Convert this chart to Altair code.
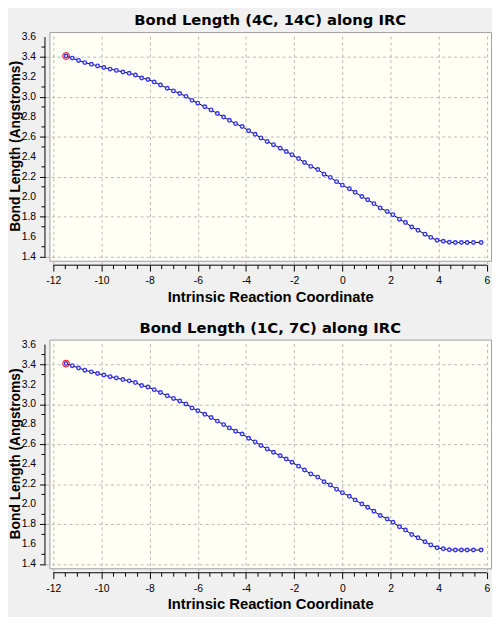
import altair as alt
import pandas as pd

# ---- data ----
IRC = [-11.47, -11.21, -10.95, -10.69, -10.42, -10.16, -9.90, -9.64, -9.38, -9.11,
       -8.85, -8.59, -8.33, -8.07, -7.81, -7.55, -7.27, -7.01, -6.75, -6.49,
       -6.24, -6.00, -5.71, -5.45, -5.19, -4.93, -4.69, -4.43, -4.16, -3.89,
       -3.62, -3.38, -3.12, -2.86, -2.58, -2.33, -2.09, -1.82, -1.57, -1.31,
       -1.02, -0.76, -0.50, -0.24, 0.00, 0.29, 0.53, 0.81, 1.05, 1.31,
       1.57, 1.86, 2.10, 2.37, 2.62, 2.88, 3.14, 3.43, 3.67, 3.93,
       4.19, 4.44, 4.69, 4.94, 5.18, 5.44, 5.76]

BOND_4C_14C = [3.410, 3.389, 3.366, 3.344, 3.327, 3.311, 3.295, 3.279, 3.266, 3.250,
               3.237, 3.220, 3.190, 3.175, 3.149, 3.120, 3.087, 3.061, 3.035, 3.006,
               2.966, 2.938, 2.902, 2.870, 2.834, 2.799, 2.766, 2.733, 2.704, 2.662,
               2.626, 2.590, 2.555, 2.522, 2.487, 2.454, 2.422, 2.383, 2.344, 2.305,
               2.273, 2.227, 2.195, 2.152, 2.117, 2.081, 2.045, 2.003, 1.971, 1.932,
               1.889, 1.854, 1.821, 1.776, 1.743, 1.698, 1.665, 1.626, 1.594, 1.565,
               1.555, 1.545, 1.543, 1.543, 1.543, 1.543, 1.543]

BOND_1C_7C = [3.410, 3.389, 3.366, 3.344, 3.327, 3.311, 3.295, 3.279, 3.266, 3.250,
              3.237, 3.220, 3.190, 3.175, 3.149, 3.120, 3.087, 3.061, 3.035, 3.006,
              2.966, 2.938, 2.902, 2.870, 2.834, 2.799, 2.766, 2.733, 2.704, 2.662,
              2.626, 2.590, 2.555, 2.522, 2.487, 2.454, 2.422, 2.383, 2.344, 2.305,
              2.273, 2.227, 2.195, 2.152, 2.117, 2.081, 2.045, 2.003, 1.971, 1.932,
              1.889, 1.854, 1.821, 1.776, 1.743, 1.698, 1.665, 1.626, 1.594, 1.565,
              1.555, 1.545, 1.543, 1.543, 1.543, 1.543, 1.543]

TITLES = ["Bond Length (4C, 14C) along IRC", "Bond Length (1C, 7C) along IRC"]
X_TITLE = "Intrinsic Reaction Coordinate"
Y_TITLE = "Bond Length (Angstroms)"

X_MAJOR_TICKS = [-12, -10, -8, -6, -4, -2, 0, 2, 4, 6]
X_MINOR_TICKS = [-11.5, -11, -10.5, -9.5, -9, -8.5, -7.5, -7, -6.5, -5.5, -5, -4.5,
                 -3.5, -3, -2.5, -1.5, -1, -0.5, 0.5, 1, 1.5, 2.5, 3, 3.5, 4.5, 5, 5.5]
Y_MAJOR_TICKS = [1.4, 1.6, 1.8, 2.0, 2.2, 2.4, 2.6, 2.8, 3.0, 3.2, 3.4, 3.6]
Y_MINOR_TICKS = [1.5, 1.7, 1.9, 2.1, 2.3, 2.5, 2.7, 2.9, 3.1, 3.3, 3.5]
X_DOMAIN = [-12.16, 6.17]
Y_DOMAIN = [1.36, 3.65]

W, H = 448, 232
LABEL_FONT = "Liberation Sans"


def panel(bond, title):
    df = pd.DataFrame({"irc": IRC, "bond": bond, "step": list(range(len(IRC)))})

    x_axis = alt.Axis(
        values=X_MAJOR_TICKS, title=X_TITLE,
        labelExpr="'' + datum.value",
        tickSize=6.5, labelPadding=5, titlePadding=3,
    )
    y_axis = alt.Axis(values=Y_MAJOR_TICKS, title=None, labels=False, tickSize=6)
    xs = alt.Scale(domain=X_DOMAIN, nice=False, zero=False)
    ys = alt.Scale(domain=Y_DOMAIN, nice=False, zero=False)
    x = alt.X("irc:Q", scale=xs, axis=x_axis)
    y = alt.Y("bond:Q", scale=ys, axis=y_axis)

    base = alt.Chart(df)
    line = base.mark_line(color="black", strokeWidth=1).encode(x=x, y=y)
    pts = base.mark_point(shape="circle", filled=False, size=13, stroke="#3535ff",
                          strokeWidth=1.4, fill="#f6f6ff", fillOpacity=1,
                          opacity=1).encode(x="irc:Q", y="bond:Q")
    ring = base.transform_filter("datum.step == 0").mark_point(
        shape="circle", filled=False, size=48, stroke="#ff0000", strokeWidth=1,
        opacity=1).encode(x="irc:Q", y="bond:Q")

    one = alt.Chart(pd.DataFrame({"label": [title], "ytitle": [Y_TITLE]}))
    xline = one.mark_rule(color="black", strokeWidth=1).encode(
        x=alt.datum(X_MAJOR_TICKS[0]), x2=alt.datum(X_MAJOR_TICKS[-1]), y=alt.value(H + 4.5))
    yline = one.mark_rule(color="black", strokeWidth=1).encode(
        y=alt.datum(Y_MAJOR_TICKS[0]), y2=alt.datum(Y_MAJOR_TICKS[-1]), x=alt.value(-4.5))
    head = one.mark_text(font="DejaVu Sans", fontSize=15, fontWeight="bold",
                         color="black", baseline="alphabetic", align="center").encode(
        text="label:N", x=alt.value(W / 2), y=alt.value(-7))
    ytitle = one.mark_text(font=LABEL_FONT, fontSize=14, fontWeight="bold", angle=270,
                           color="black", baseline="alphabetic", align="center").encode(
        text="ytitle:N", x=alt.value(-30), y=alt.value(H / 2))

    xminor = alt.Chart(pd.DataFrame({"v": X_MINOR_TICKS})).mark_rule(
        color="black", strokeWidth=1).encode(
        x=alt.X("v:Q", scale=xs), y=alt.value(H + 4.5), y2=alt.value(H + 8.5))
    yminor = alt.Chart(pd.DataFrame({"v": Y_MINOR_TICKS})).mark_rule(
        color="black", strokeWidth=1).encode(
        y=alt.Y("v:Q", scale=ys), x=alt.value(-4.5), x2=alt.value(-8))
    ylabels = alt.Chart(pd.DataFrame({"v": Y_MAJOR_TICKS})).mark_text(
        font=LABEL_FONT, fontSize=10.5, color="black", align="right", baseline="middle").encode(
        y=alt.Y("v:Q", scale=ys), x=alt.value(-13.5), text=alt.Text("v:Q", format=".1f"))

    return alt.layer(line, pts, ring, xline, yline, xminor, yminor, ylabels, head,
                     ytitle).properties(width=W, height=H)


chart = alt.vconcat(panel(BOND_4C_14C, TITLES[0]), panel(BOND_1C_7C, TITLES[1]),
                    spacing=15).properties(padding=0, background="#f0f0f0")

chart = chart.configure_view(fill="#fffff5", stroke="#a0a0a0", strokeWidth=1).configure_axis(
    labelFont=LABEL_FONT, labelFontSize=10.5, labelColor="black",
    titleFont=LABEL_FONT, titleFontSize=15, titleFontWeight="bold", titleColor="black",
    tickColor="black", tickWidth=1, domain=False, offset=4,
    gridColor="#b8b8b8", gridDash=[3, 3], gridWidth=1,
    labelOverlap=False, labelFlush=False,
)

chart.save("out.html", embed_options={"renderer": "svg", "actions": False})
